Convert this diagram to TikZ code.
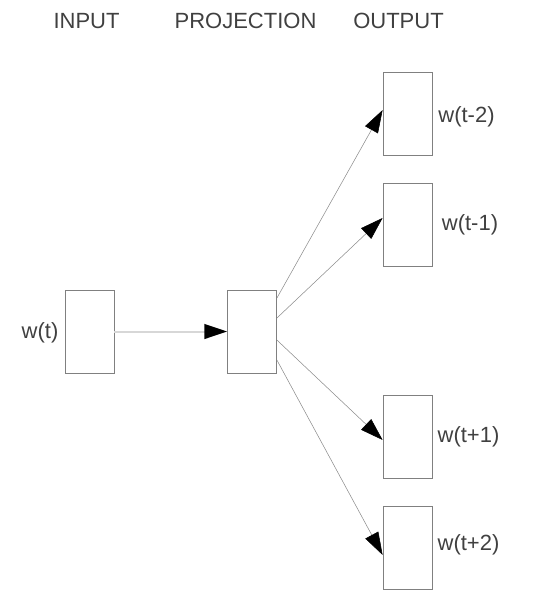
\documentclass[tikz,border=0pt]{standalone}
\usepackage{fontspec}
\setmainfont{Liberation Sans}
\usetikzlibrary{shapes,arrows.meta}
\definecolor{boxgray}{RGB}{128,128,128}
\definecolor{txtgray}{RGB}{64,64,64}
\definecolor{linegray}{RGB}{140,140,140}
\definecolor{palegray}{RGB}{215,215,215}
\tikzset{
  unit/.style={draw=boxgray, line width=0.6pt, minimum width=36.75pt, minimum height=62.25pt, inner sep=0pt},
  lbl/.style={text=txtgray, font=\fontsize{16.5}{20}\selectfont, inner sep=0pt},
  conn/.style={draw=linegray, line width=0.4pt, -{Triangle[length=17pt,width=11pt,color=black]}}
}

\begin{document}
\begin{tikzpicture}[x=0.75pt, y=-0.75pt]
\useasboundingbox (0,0) rectangle (534,593);
% column titles
\node[lbl] (hin) at (86.5,21) {INPUT};
\node[lbl] (hproj) at (245.5,21) {PROJECTION};
\node[lbl] (hout) at (398.5,21) {OUTPUT};
% boxes
\node[unit] (in) at (89.5,331.5) {};
\node[unit] (proj) at (252,331.5) {};
\node[unit] (o1) at (407.5,113.5) {};
\node[unit] (o2) at (407.5,224.5) {};
\node[unit] (o3) at (407.5,436.5) {};
\node[unit] (o4) at (407.5,547.5) {};
% word labels
\node[lbl] (win) at (40,333) {w(t)};
\node[lbl] (w1) at (466.5,117) {w(t-2)};
\node[lbl] (w2) at (470,225) {w(t-1)};
\node[lbl] (w3) at (468.5,437) {w(t+1)};
\node[lbl] (w4) at (468.5,545) {w(t+2)};
% connections
\draw[conn, draw=palegray, line width=1.5pt] (in.east) -- (proj.west);
\foreach \o/\a/\b in {o1/25.1/2.6, o2/10.1/4.9, o3/-6.4/-2.6, o4/-21.4/-5.6}
\draw[conn] ([yshift=\a pt]proj.east) -- ([yshift=\b pt]\o.west);
\end{tikzpicture}
\end{document}
